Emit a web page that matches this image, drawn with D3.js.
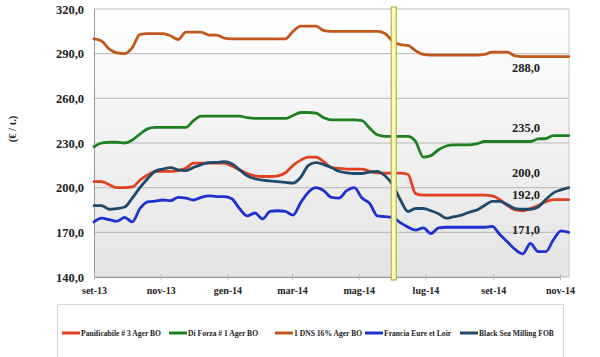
<!DOCTYPE html>
<html><head><meta charset="utf-8">
<script src="https://cdn.jsdelivr.net/npm/d3@7"></script>
<style>body{margin:0;background:#fff}svg{display:block}</style>
</head><body>
<svg id="c" width="600" height="357"></svg>
<script>
// ---- data ----
const startDate = new Date(2013, 8, 1);
const panificabile = [204,204,202,200,200,200.5,205,208.5,211,211,211,211.5,213,216.5,216.5,216.5,216.5,216.5,214.5,212,209.5,208,207.5,207.5,208,210,215,218.5,220.5,220.5,217.5,213.5,213,212.5,212.5,212.5,211,210,209.7,209.7,209.7,209,196,195,195,195,195,195,195,195,195,195,194.5,192,188,185,184.5,186,188,190.5,192,192,192];
const diForza = [227.5,230,230.5,230.5,230,232,236,239.5,240.5,240.5,240.5,240.5,240.5,245,248,248,248,248,248,248,247,246.5,246.5,246.5,246.5,246.5,248.5,250.5,250.5,250,247,245.5,245.5,245.5,245.5,245,240,235.5,234.5,234.5,234.5,234.5,231,220.5,221.5,225.5,228,228.7,228.7,228.7,229.5,231,231,231,231,231,231,231,232.7,233,235,235,235];
const dns = [300,298.5,293,290.5,290,294,303,303.5,303.5,303.5,302,299.5,304.5,304.5,304.5,302.5,302.5,300.5,300,300,300,300,300,300,300,300,305,308.5,308.5,308.5,305.5,305,305,305,305,305,305,305,303.5,298.5,296,295.5,292,289.5,289,289,289,289,289,289,289,289.5,291,291,291,288.5,288,288,288,288,288,288,288];
const francia = [177,179.5,178.5,177.5,180,177,186,190.5,191,191.7,191.3,193.5,193,191.7,193.5,194.5,194,194,192.5,186,181,183,179,184,184.5,184,181.6,190,197,200,198,193.5,193,198,200,193,189.5,181,180.5,180,176.5,173.5,171.5,173,169.2,173,173.4,173.4,173.4,173.4,173.4,173.4,174,168.5,163.5,158.5,155.5,162.5,157,157,165,171,170];
const blackSea = [188,188,185.5,186,187,193,200,206,211,212.5,213.5,212,211.5,213.5,215.5,216.8,217,217.4,216,212,208,206,205,204.5,204,203.5,203,207,215,216.8,215.5,213.5,211,210,209.5,209.5,210.5,211,208,202,192,184,186,186,184.5,182.5,179.5,180.5,181.5,183.5,185,188,190.8,190.8,188.5,186,185.5,185.5,187,192,196.5,198.5,200];
const seriesNames = ["Panificabile # 3 Ager BO","Di Forza # 1 Ager BO","1 DNS 16% Ager BO","Francia Eure et Loir","Black Sea Milling FOB"];
const seriesColors = ["#e2401e","#1f8022","#c0581c","#1f30d0","#1f4a6b"];
const yTicks = [140,170,200,230,260,290,320];
const tickDates = [new Date(2013,8,1),new Date(2013,10,1),new Date(2014,0,1),new Date(2014,2,1),new Date(2014,4,1),new Date(2014,6,1),new Date(2014,8,1),new Date(2014,10,1)];
const tickLabels = ["set-13","nov-13","gen-14","mar-14","mag-14","lug-14","set-14","nov-14"];
const endLabels = ["288,0","235,0","200,0","192,0","171,0"];
const endValues = [288,235,200,192,171];
const markerDate = new Date(2014,5,2);
const yTitle = "(€ / t.)";

// ---- chart ----
const svg = d3.select("#c");
const L = 94, R = 569, T = 9, B = 277;
const x = d3.scaleTime().domain([new Date(2013,8,1), new Date(2014,10,1)]).range([94, 560]);
const y = d3.scaleLinear().domain([140,320]).range([B, T]);
const dates = dns.map((_, i) => d3.timeDay.offset(startDate, i*7));

const defs = svg.append("defs");
const g = defs.append("linearGradient").attr("id","bg").attr("x1",0).attr("x2",0).attr("y1",0).attr("y2",1);
g.append("stop").attr("offset","0%").attr("stop-color","#ffffff");
g.append("stop").attr("offset","100%").attr("stop-color","#e4e4e4");
svg.append("rect").attr("x",L).attr("y",T).attr("width",R-L).attr("height",B-T).attr("fill","url(#bg)");

// gridlines
svg.append("g").selectAll("line").data(yTicks).join("line")
  .attr("x1",L).attr("x2",R).attr("y1",d=>y(d)).attr("y2",d=>y(d))
  .attr("stroke","#b8b8b8").attr("stroke-width",1);
svg.append("line").attr("x1",R).attr("x2",R).attr("y1",T).attr("y2",B).attr("stroke","#c8c8c8");

// y axis
const ya = svg.append("g").attr("transform",`translate(${L},0)`)
  .call(d3.axisLeft(y).tickValues(yTicks).tickFormat(d=>d.toFixed(1).replace(".",",")).tickSize(0).tickSizeOuter(0));
ya.select(".domain").attr("stroke","#999");
ya.selectAll("text").attr("font-family","'Liberation Serif',serif").attr("font-weight","bold").attr("font-size","12.5px").attr("fill","#222").attr("x",-10);

// x axis
const xa = svg.append("g").attr("transform",`translate(0,${B})`)
  .call(d3.axisBottom(x).tickValues(tickDates).tickFormat((d,i)=>tickLabels[i]).tickSize(4).tickSizeOuter(0));
xa.select(".domain").attr("stroke","#999");
xa.selectAll(".tick line").attr("stroke","#bbb").attr("y1",-3).attr("y2",3);
xa.selectAll("text").attr("font-family","'Liberation Serif',serif").attr("font-weight","bold").attr("font-size","10px").attr("fill","#222").attr("dy","1.05em").attr("y",6);

// y title
svg.append("text").attr("transform","translate(16,129) rotate(-90)").attr("text-anchor","middle")
  .attr("font-family","'Liberation Serif',serif").attr("font-weight","bold").attr("font-size","10.5px").attr("fill","#222").text(yTitle);

// lines
const allSeries = [panificabile, diForza, dns, francia, blackSea];
const line = d3.line().x((d,i)=>x(dates[i])).y(d=>y(d)).curve(d3.curveMonotoneX);
const drawOrder = [2,1,0,3,4];
drawOrder.forEach(k=>{
  svg.append("path").datum(allSeries[k]).attr("d",line).attr("fill","none")
    .attr("stroke",seriesColors[k]).attr("stroke-width",2.8).attr("stroke-linejoin","round").attr("stroke-linecap","round");
});

// marker bar
const mx = x(markerDate);
svg.append("rect").attr("x",mx-2.5).attr("y",T-2).attr("width",5).attr("height",B-T+5)
  .attr("fill","#fbfbb0").attr("stroke","#a8a83a").attr("stroke-width",1);

// end labels
const offs = [15.5,-3.5,-10.5,-0.5,3.5];
svg.append("g").selectAll("text").data(endLabels).join("text")
  .attr("x",526).attr("y",(d,i)=>y(endValues[i])+offs[i]).attr("text-anchor","middle")
  .attr("font-family","'Liberation Serif',serif").attr("font-weight","bold").attr("font-size","12.5px").attr("fill","#222").text(d=>d);

// legend
svg.append("rect").attr("x",57.5).attr("y",304.5).attr("width",506).attr("height",60).attr("fill","#fff").attr("stroke","#d4d4d4");
const legX = [62,169,275,365,460];
const lg = svg.append("g").selectAll("g").data(seriesNames).join("g").attr("transform",(d,i)=>`translate(${legX[i]},333)`);
lg.append("line").attr("x1",0).attr("x2",18).attr("stroke",(d,i)=>seriesColors[i]).attr("stroke-width",3);
lg.append("text").attr("x",19).attr("y",2.8).attr("font-family","'Liberation Serif',serif").attr("font-weight","bold").attr("font-size","7.6px").attr("fill","#222").text(d=>d);
</script>
</body></html>
